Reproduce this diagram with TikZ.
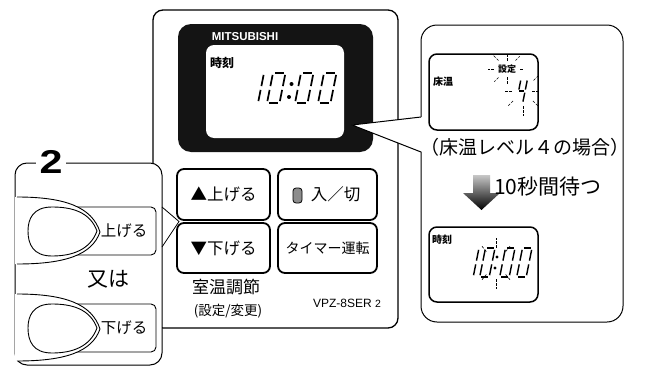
\documentclass[tikz,border=0pt]{standalone}
\usepackage{fontspec}
\setmainfont{Liberation Sans}
\newfontfamily\jp{Noto Sans CJK JP}
\usetikzlibrary{calc, positioning}

% segments of one LCD digit, drawn in a 10 x 22 frame
\newcommand{\sgA}{\draw[lcdseg] (1.4,0) -- (8.6,0);}
\newcommand{\sgB}{\draw[lcdseg] (10,1.4) -- (10,9.6);}
\newcommand{\sgC}{\draw[lcdseg] (10,12.4) -- (10,20.6);}
\newcommand{\sgD}{\draw[lcdseg] (1.4,22) -- (8.6,22);}
\newcommand{\sgE}{\draw[lcdseg] (0,12.4) -- (0,20.6);}
\newcommand{\sgF}{\draw[lcdseg] (0,1.4) -- (0,9.6);}
\newcommand{\sgG}{\draw[lcdseg] (1.4,11) -- (8.6,11);}
\newcommand{\lcdzero}{\sgA\sgB\sgC\sgD\sgE\sgF}
\newcommand{\lcdone}{\sgB\sgC}
\newcommand{\lcdfour}{\sgB\sgC\sgF\sgG}

\begin{document}
\begin{tikzpicture}[x=1pt, y=-1pt,
    remote/.style={draw=black, line width=1.3pt, rounded corners=10pt, fill=white},
    lcdpanel/.style={fill=black!92, rounded corners=13pt},
    lcdframe/.style={draw=black, line width=1.5pt, rounded corners=8pt, fill=white},
    bubble/.style={draw=black, line width=1pt, rounded corners=16pt, fill=white},
    leftbox/.style={draw=black, line width=1pt, rounded corners=12pt, fill=white},
    keybtn/.style={draw=black, line width=1.8pt, rounded corners=7pt, fill=white,
        inner sep=0pt, font=\jp\fontsize{16.5}{17}\selectfont},
    padkey/.style={draw=black, line width=0.9pt, rounded corners=5pt},
    lcdseg/.style={line width=1.7pt, line cap=butt},
    ray/.style={line width=0.6pt, dash pattern=on 2.6pt off 1.6pt},
    lcdtag/.style={font=\jp\bfseries\fontsize{10}{10}\selectfont, inner sep=0pt},
    capt/.style={font=\jp\fontsize{19}{20}\selectfont, inner sep=0pt}]
    \useasboundingbox (0,0) rectangle (646,367);

    % remote control body
    \draw[remote] (153,10) rectangle (398,328);
    \fill[lcdpanel] (178,24) rectangle (373,152);
    \fill[white, rounded corners=8pt] (206,45) rectangle (344,138);
    \node[font=\bfseries\fontsize{11.5}{12}\selectfont, text=white, inner sep=0pt] (brand) at (245,37) {MITSUBISHI};
    \node[font=\jp\bfseries\fontsize{12}{12}\selectfont, inner sep=0pt] (clock) at (222,63) {時刻};

    % 10:00 on the main display
    \begin{scope}[shift={(251.5,73)}, xslant=0.2, xscale=1.25, yscale=1.364] \lcdone \end{scope}
    \begin{scope}[shift={(273,73)}, xslant=0.2, xscale=1.25, yscale=1.364] \lcdzero \end{scope}
    \begin{scope}[shift={(301,73)}, xslant=0.2, xscale=1.25, yscale=1.364] \lcdzero \end{scope}
    \begin{scope}[shift={(324,73)}, xslant=0.2, xscale=1.25, yscale=1.364] \lcdzero \end{scope}
    \fill (291.5,84) circle (2) (289,97) circle (2);

    % buttons
    \node[keybtn, minimum width=93pt, minimum height=51pt] (up) at (223.5,194.5) {▲上げる};
    \node[keybtn, minimum width=93pt, minimum height=50pt] (down) at (223.5,248) {▼下げる};
    \node[keybtn, minimum width=99pt, minimum height=51pt] (power) at (327.5,194.5) {\hspace*{16pt}入／切};
    \node[keybtn, minimum width=99pt, minimum height=50pt, font=\jp\fontsize{14}{14}\selectfont] (timer) at (327.5,248) {タイマー運転};
    \draw[fill=black!45, line width=0.8pt, rounded corners=3pt] (293,188) rectangle (302,203);
    \node[font=\jp\fontsize{17}{17}\selectfont, inner sep=0pt] (roomtemp) at (226,287) {室温調節};
    \node[font=\jp\fontsize{13.5}{14}\selectfont, inner sep=0pt] (adjust) at (228,311) {(設定/変更)};
    \node[font=\fontsize{12}{12}\selectfont, inner sep=0pt] (model) at (347,303) {VPZ-8SER {\fontsize{10.5}{10}\selectfont 2}};

    % callout with the floor level display
    \draw[bubble] (421,25) rectangle (623,322);
    \coordinate (tip) at (352,125);
    \coordinate (wa) at (421,117);
    \coordinate (wb) at (421,152);
    \fill[white] (tip) -- ([xshift=1.5pt]wa) -- ([xshift=1.5pt]wb) -- cycle;
    \draw[line width=1pt, line join=round] (wa) -- (tip) -- (wb);

    \draw[lcdframe] (429,54) rectangle (538,130);
    \node[lcdtag] (floor) at (443,82) {床温};
    \node[font=\jp\bfseries\fontsize{9}{9}\selectfont, inner sep=0pt] (setmark) at (507,69) {設定};
    \begin{scope}[shift={(521,79)}, xslant=0.2, xscale=0.65, yscale=1.1, lcdseg/.style={line width=1.4pt}] \lcdfour \end{scope}
    \coordinate (fourc) at (523,91);
    \foreach \a/\r/\l in {270/8/8, 225/12/7, 315/12/6, 180/13/6, 0/13/4, 90/8/8, 135/12/6}
        \draw[ray] (setmark) ++(\a:\r) -- ++(\a:\l);
    \foreach \a/\r/\l in {0/9/8, 315/15/6, 45/14/7, 90/15/10, 135/14/7, 180/11/8}
        \draw[ray] (fourc) ++(\a:\r) -- ++(\a:\l);
    \node[capt] (level) at (525,147) {（床温レベル４の場合）};

    % wait arrow
    \shade[top color=black!22, middle color=black!85, bottom color=black]
        (473,175) -- (490,175) -- (490,193) -- (500,193) -- (481.5,210) -- (463,193) -- (473,193) -- cycle;
    \node[capt, font=\jp\fontsize{21}{21}\selectfont, anchor=west] (wait) at (494,187) {10秒間待つ};

    % clock display after the wait
    \draw[lcdframe] (429,227) rectangle (538,302);
    \node[lcdtag] (clock2) at (442,240) {時刻};
    \begin{scope}[lcdseg/.style={line width=1.4pt}]
        \begin{scope}[shift={(469.5,248)}, xslant=0.2, xscale=0.95, yscale=1.32] \lcdone \end{scope}
        \begin{scope}[shift={(485.5,248)}, xslant=0.2, xscale=0.95, yscale=1.32] \lcdzero \end{scope}
        \begin{scope}[shift={(505.5,248)}, xslant=0.2, xscale=0.95, yscale=1.32] \lcdzero \end{scope}
        \begin{scope}[shift={(522.5,248)}, xslant=0.2, xscale=0.95, yscale=1.32] \lcdzero \end{scope}
    \end{scope}
    \fill (497,257) circle (1.7) (495,268) circle (1.7);
    \coordinate (colon) at (496,263);
    \foreach \a/\r/\l in {270/15/10, 230/15/8, 310/15/8, 90/16/10, 130/15/8, 50/15/8}
        \draw[ray] (colon) ++(\a:\r) -- ++(\a:\l);

    % step 2: press up or down
    \draw[leftbox] (15,163) rectangle (162,365);
    \node[font=\bfseries\fontsize{33}{33}\selectfont, fill=white, inner xsep=4pt, inner ysep=0pt] (stepno) at (51,162) {\scalebox{1.25}[1]{2}};
    \foreach \cy/\lbl/\nm in {231/上げる/up, 328/下げる/down} {
        \begin{scope}[shift={(0,\cy)}]
            \draw[padkey] (28,-24) rectangle (156,24);
            \fill[white] (15,-34) -- (17,-34) .. controls (65,-34) and (92,-24) .. (100,1)
                .. controls (92,24) and (65,33) .. (17,33) -- (15,33) -- cycle;
            \draw[line width=0.9pt] (17,-34) .. controls (65,-34) and (92,-24) .. (100,1)
                .. controls (92,24) and (65,33) .. (17,33);
            \draw[line width=0.9pt, fill=white] (97,0) .. controls (90,-19) and (72,-24) .. (52,-24)
                .. controls (33,-24) and (28,-12) .. (28,0) .. controls (28,13) and (33,25) .. (52,25)
                .. controls (72,25) and (90,19) .. (97,0) -- cycle;
            \node[font=\jp\fontsize{15.5}{16}\selectfont, inner sep=0pt] (key-\nm) at (124,0) {\lbl};
        \end{scope}
    }
    \node[capt, font=\jp\fontsize{21}{21}\selectfont] (or) at (108,279) {又は};

    % leader lines to the up/down pair
    \coordinate (boxa) at (162,207);
    \coordinate (boxb) at (162,247);
    \coordinate (junc) at (179,221.5);
    \draw[line width=0.8pt] (boxa) -- (junc) -- (boxb);
\end{tikzpicture}
\end{document}
